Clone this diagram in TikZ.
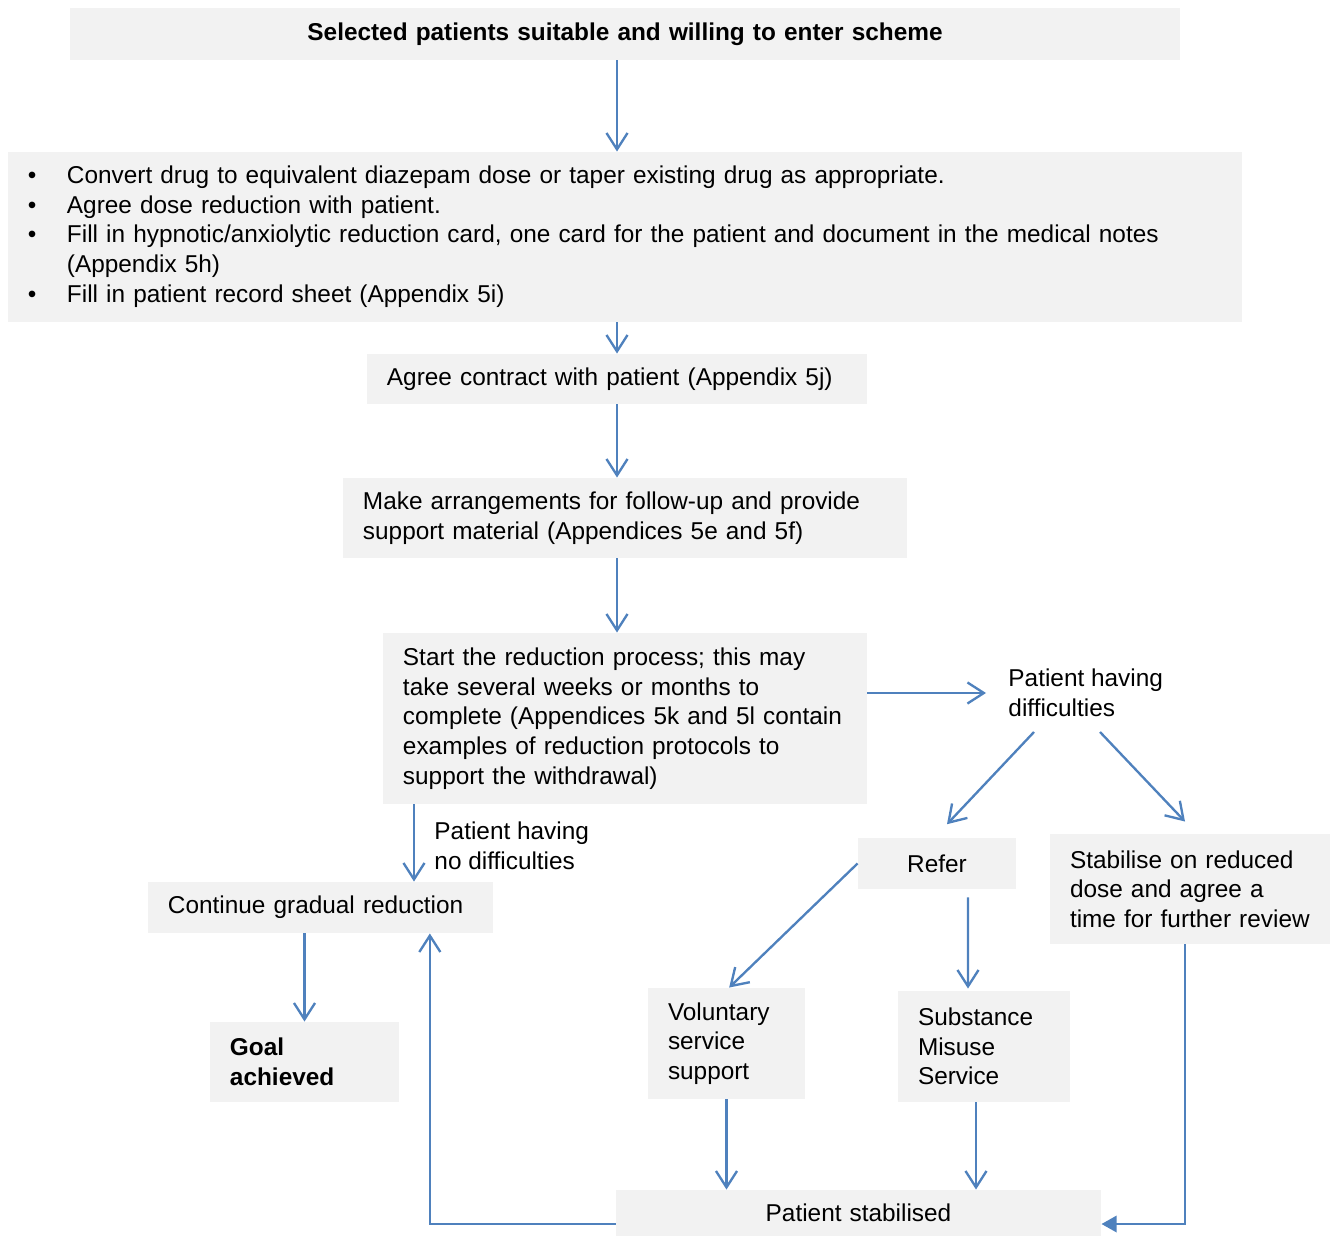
\documentclass[tikz,border=0pt]{standalone}
\usepackage{fontspec}
\setmainfont{Liberation Sans}
\usetikzlibrary{arrows.meta}
\definecolor{boxgray}{RGB}{242,242,242}
\definecolor{arrowblue}{RGB}{79,129,189}
\newcommand{\flowfont}{\fontsize{10.4}{12.65}\selectfont\hyphenpenalty=10000}

\begin{document}
\begin{tikzpicture}[x=0.015cm, y=-0.015cm,
    box/.style={fill=boxgray, inner xsep=0.3cm, inner ysep=0pt, align=left, font=\flowfont},
    plain/.style={inner sep=0pt, align=left, font=\flowfont},
    arr/.style={draw=arrowblue, line width=1pt, -{Straight Barb[length=7pt,width=9pt]}},
    arrfill/.style={draw=arrowblue, line width=1pt, -{Triangle[length=6.5pt,width=7pt]}}
]
    \useasboundingbox (0,0) rectangle (1334,1236);

    % boxes
    \node[box, align=center, text width=16.05cm, minimum height=0.78cm,
        font=\flowfont\bfseries] (top) at (625,34)
        {Selected patients suitable and willing to enter scheme};
    \node[box, text width=17.91cm, minimum height=2.55cm] (bullets) at (625,237) {%
        \begin{tabular}{@{}p{0.585cm}@{}l@{}}
        \textbullet & Convert drug to equivalent diazepam dose or taper existing drug as appropriate.\\
        \textbullet & Agree dose reduction with patient.\\
        \textbullet & Fill in hypnotic/anxiolytic reduction card, one card for the patient and document in the medical notes\\
                    & (Appendix 5h)\\
        \textbullet & Fill in patient record sheet (Appendix 5i)
        \end{tabular}};
    \node[box, text width=6.9cm, minimum height=0.75cm] (agree) at (617,379)
        {Agree contract with patient (Appendix 5j)};
    \node[box, text width=7.86cm, minimum height=1.2cm] (make) at (625,518)
        {Make arrangements for follow-up and provide\\support material (Appendices 5e and 5f)};
    \node[box, text width=6.66cm, minimum height=2.565cm] (start) at (625,718.5)
        {Start the reduction process; this may\\take several weeks or months to\\complete (Appendices 5k and 5l contain\\examples of reduction protocols to\\support the withdrawal)};
    \node[plain, anchor=west] (diff) at (1008,693) {Patient having\\difficulties};
    \node[plain, anchor=west] (nodiff) at (434,846) {Patient having\\no difficulties};
    \node[box, align=center, text width=1.77cm, minimum height=0.765cm] (refer) at (937,863.5) {Refer};
    \node[box, text width=3.6cm, minimum height=1.65cm] (stab) at (1190,889)
        {Stabilise on reduced\\dose and agree a\\time for further review};
    \node[box, text width=4.575cm, minimum height=0.765cm] (cont) at (320.5,907.5)
        {Continue gradual reduction};
    \node[box, text width=2.235cm, minimum height=1.2cm,
        font=\flowfont\bfseries] (goal) at (304.5,1062) {Goal\\achieved};
    \node[box, text width=1.755cm, minimum height=1.665cm] (vol) at (726.5,1043.5)
        {Voluntary\\service\\support};
    \node[box, text width=1.98cm, minimum height=1.665cm] (sub) at (984,1046.5)
        {Substance\\Misuse\\Service};
    \node[box, align=center, text width=6.675cm, minimum height=0.69cm] (stabd) at (858.5,1213)
        {Patient stabilised};

    % arrows
    \draw[arr] (top.south -| agree) -- (bullets.north -| agree);
    \draw[arr] (bullets.south -| agree) -- (agree.north);
    \draw[arr] (agree.south) -- (make.north -| agree);
    \draw[arr] (make.south -| agree) -- (start.north -| agree);
    \draw[arr] (start.east |- diff.west) -- ([xshift=-0.33cm]diff.west);
    \draw[arr] ([shift={(0.39cm,-0.585cm)}]diff.west) -- ([shift={(0.15cm,0.2cm)}]refer.north);
    \draw[arr] ([shift={(1.38cm,-0.585cm)}]diff.west) -- ([shift={(-0.075cm,0.18cm)}]stab.north);
    \draw[arr] ([xshift=-3.165cm]start.south) -- ([xshift=-3.165cm]start.south |- cont.north);
    \draw[arr] (goal.north |- cont.south) -- (goal.north);
    \draw[arr] (refer.west) -- ([xshift=0.04cm]vol.north);
    \draw[arr] ([shift={(0.465cm,-0.12cm)}]refer.south) -- ([xshift=-0.24cm,yshift=0.03cm]sub.north);
    \draw[arr] (vol.south) -- (vol.south |- stabd.north);
    \draw[arr] ([xshift=-0.12cm]sub.south) -- ([xshift=-0.12cm]sub.south |- stabd.north);
    \draw[arrfill] ([xshift=-0.075cm]stab.south) |- ([yshift=-0.165cm]stabd.east);
    \draw[arr] ([yshift=-0.165cm]stabd.west) -| ([xshift=1.64cm]cont.south);
\end{tikzpicture}
\end{document}
